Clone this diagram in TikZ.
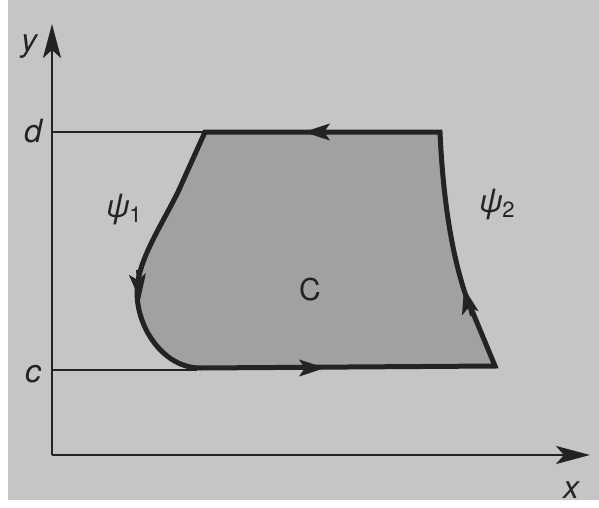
\documentclass[tikz,border=0pt]{standalone}
\usepackage{fontspec}
\setsansfont{TeX Gyre Heros}
\usetikzlibrary{arrows.meta}
\definecolor{paper}{RGB}{196,198,196}
\definecolor{shade}{RGB}{160,161,162}
\definecolor{ink}{RGB}{35,35,38}
\begin{document}
\begin{tikzpicture}[x=1pt,y=-1pt,
  axis/.style={draw=ink,line width=2.6pt},
  guide/.style={draw=ink,line width=1.4pt},
  bound/.style={draw=ink,line width=5pt,line join=miter},
  dir/.style={draw=ink,line width=2pt,-{Stealth[length=26pt,width=17pt,inset=6pt]}},
  lbl/.style={text=ink,font=\sffamily\itshape\fontsize{32}{36}\selectfont,inner sep=0pt}]
\useasboundingbox (0,0) rectangle (599,508);
\fill[white] (0,0) rectangle (599,508);
\fill[paper] (8,0) rectangle (599,500);
% region
\coordinate (tl) at (205,132);
\coordinate (tr) at (440,132);
\coordinate (br) at (495,366);
\coordinate (bl) at (200,368);
\path[bound,fill=shade] (tl) -- (tr) .. controls (443,200) and (452,255) .. (466,296) -- (br) -- (bl)
  .. controls (165,368) and (137,330) .. (137,292) .. controls (137,262) and (160,228) .. (178,192) -- cycle;
% guide lines
\coordinate (o) at (52,455);
\coordinate (d0) at (52,132);
\coordinate (c0) at (52,370);
\draw[guide] (d0) -- (tl);
\draw[guide] (c0) -- (197,370);
% axes
\coordinate (ytip) at (52,24);
\coordinate (xtip) at (590,455);
\draw[axis,-{Stealth[length=34pt,width=18pt,inset=8pt]}] (o) -- (ytip);
\draw[axis,-{Stealth[length=34pt,width=18pt,inset=8pt]}] (o) -- (xtip);
% direction arrows
\draw[dir] (335,132) -- (304,132);
\draw[dir] (294,368) -- (325,368);
\draw[dir] (137,270) -- (140,300);
\draw[dir] (471,316) -- (464,288);
% labels
\node[lbl] (ly) at (29,47) {y};
\node[lbl] (lx) at (571,490) {x};
\node[lbl] (ld) at (33,131) {d};
\node[lbl] (lc) at (33,374) {c};
\node[lbl,font=\sffamily\fontsize{30}{32}\selectfont] (lC) at (310,290) {C};
\node[lbl] (lp1) at (124,210) {ψ\raisebox{-5pt}{\fontsize{22}{24}\selectfont\upshape 1}};
\node[lbl] (lp2) at (497,205) {ψ\raisebox{-5pt}{\fontsize{22}{24}\selectfont\upshape 2}};
\end{tikzpicture}
\end{document}
